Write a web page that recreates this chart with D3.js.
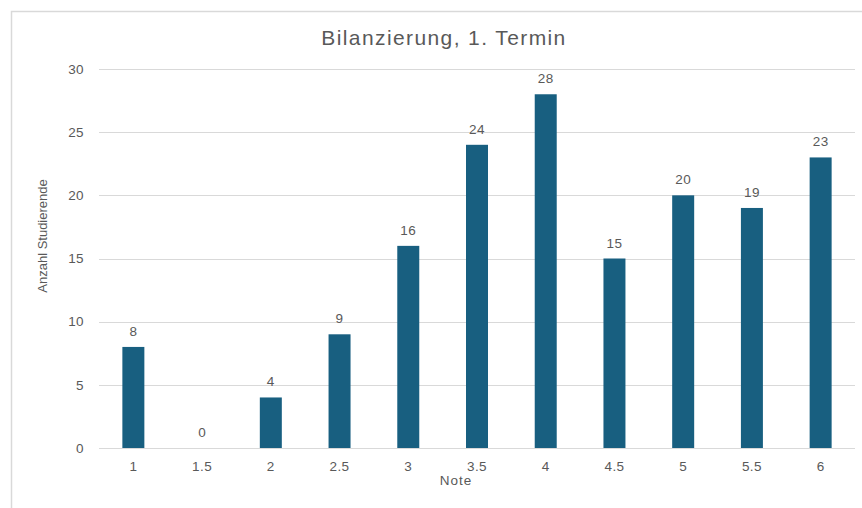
<!DOCTYPE html>
<html>
<head>
<meta charset="utf-8">
<script src="https://cdn.jsdelivr.net/npm/d3@7"></script>
<style>
  body { margin: 0; background: #fff; }
  svg text { font-family: "Liberation Sans", Arial, sans-serif; fill: #595959; }
</style>
</head>
<body>
<svg id="chart" width="862" height="508"></svg>
<script>
// data
var noten = ["1", "1.5", "2", "2.5", "3", "3.5", "4", "4.5", "5", "5.5", "6"];
var anzahl = [8, 0, 4, 9, 16, 24, 28, 15, 20, 19, 23];
var yTicks = [0, 5, 10, 15, 20, 25, 30];

var svg = d3.select("#chart");
var margin = { top: 69, right: 7, bottom: 60, left: 99 };
var width = 862 - margin.left - margin.right;
var height = 508 - margin.top - margin.bottom;

// chart border
svg.append("rect")
  .attr("x", 11.5).attr("y", 11.5)
  .attr("width", 870).attr("height", 520)
  .attr("fill", "none").attr("stroke", "#d9d9d9").attr("stroke-width", 1.5);

var g = svg.append("g").attr("transform", "translate(" + margin.left + "," + margin.top + ")");

var x = d3.scaleBand().domain(noten).range([0, width]).paddingInner(0.68).paddingOuter(0.34);
var y = d3.scaleLinear().domain([0, 30]).range([height, 0]);

// gridlines
g.selectAll(".grid").data(yTicks).enter().append("line")
  .attr("x1", 0).attr("x2", width)
  .attr("y1", function(d) { return Math.round(y(d)) + 0.5; })
  .attr("y2", function(d) { return Math.round(y(d)) + 0.5; })
  .attr("stroke", "#d9d9d9").attr("stroke-width", 1);

// y axis labels
var yAxis = g.append("g").call(d3.axisLeft(y).tickValues(yTicks).tickSize(0).tickPadding(15));
yAxis.select(".domain").remove();
yAxis.selectAll("text").style("font-size", "13.5px").style("letter-spacing", "0.4px");

// x axis labels
var xAxis = g.append("g").attr("transform", "translate(0," + height + ")")
  .call(d3.axisBottom(x).tickSize(0).tickPadding(13));
xAxis.select(".domain").remove();
xAxis.selectAll("text").style("font-size", "13.5px").style("letter-spacing", "0.4px");

// bars
g.selectAll(".bar").data(anzahl).enter().append("rect")
  .attr("class", "bar")
  .attr("x", function(d, i) { return x(noten[i]); })
  .attr("y", function(d) { return y(d); })
  .attr("width", x.bandwidth())
  .attr("height", function(d) { return height - y(d); })
  .attr("fill", "#185f80");

// data labels
g.selectAll(".lbl").data(anzahl).enter().append("text")
  .attr("x", function(d, i) { return x(noten[i]) + x.bandwidth() / 2; })
  .attr("y", function(d) { return y(d) - 11; })
  .attr("text-anchor", "middle")
  .style("font-size", "13.5px")
  .style("letter-spacing", "0.4px")
  .text(function(d) { return d; });

// title
svg.append("text")
  .attr("x", 444).attr("y", 45)
  .attr("text-anchor", "middle")
  .style("font-size", "21px")
  .style("letter-spacing", "1.4px")
  .text("Bilanzierung, 1. Termin");

// axis titles
svg.append("text")
  .attr("x", 456).attr("y", 485)
  .attr("text-anchor", "middle")
  .style("font-size", "13.5px")
  .style("letter-spacing", "1px")
  .text("Note");

svg.append("text")
  .attr("transform", "translate(47,236) rotate(-90)")
  .attr("text-anchor", "middle")
  .style("font-size", "13px")
  .text("Anzahl Studierende");
</script>
</body>
</html>
